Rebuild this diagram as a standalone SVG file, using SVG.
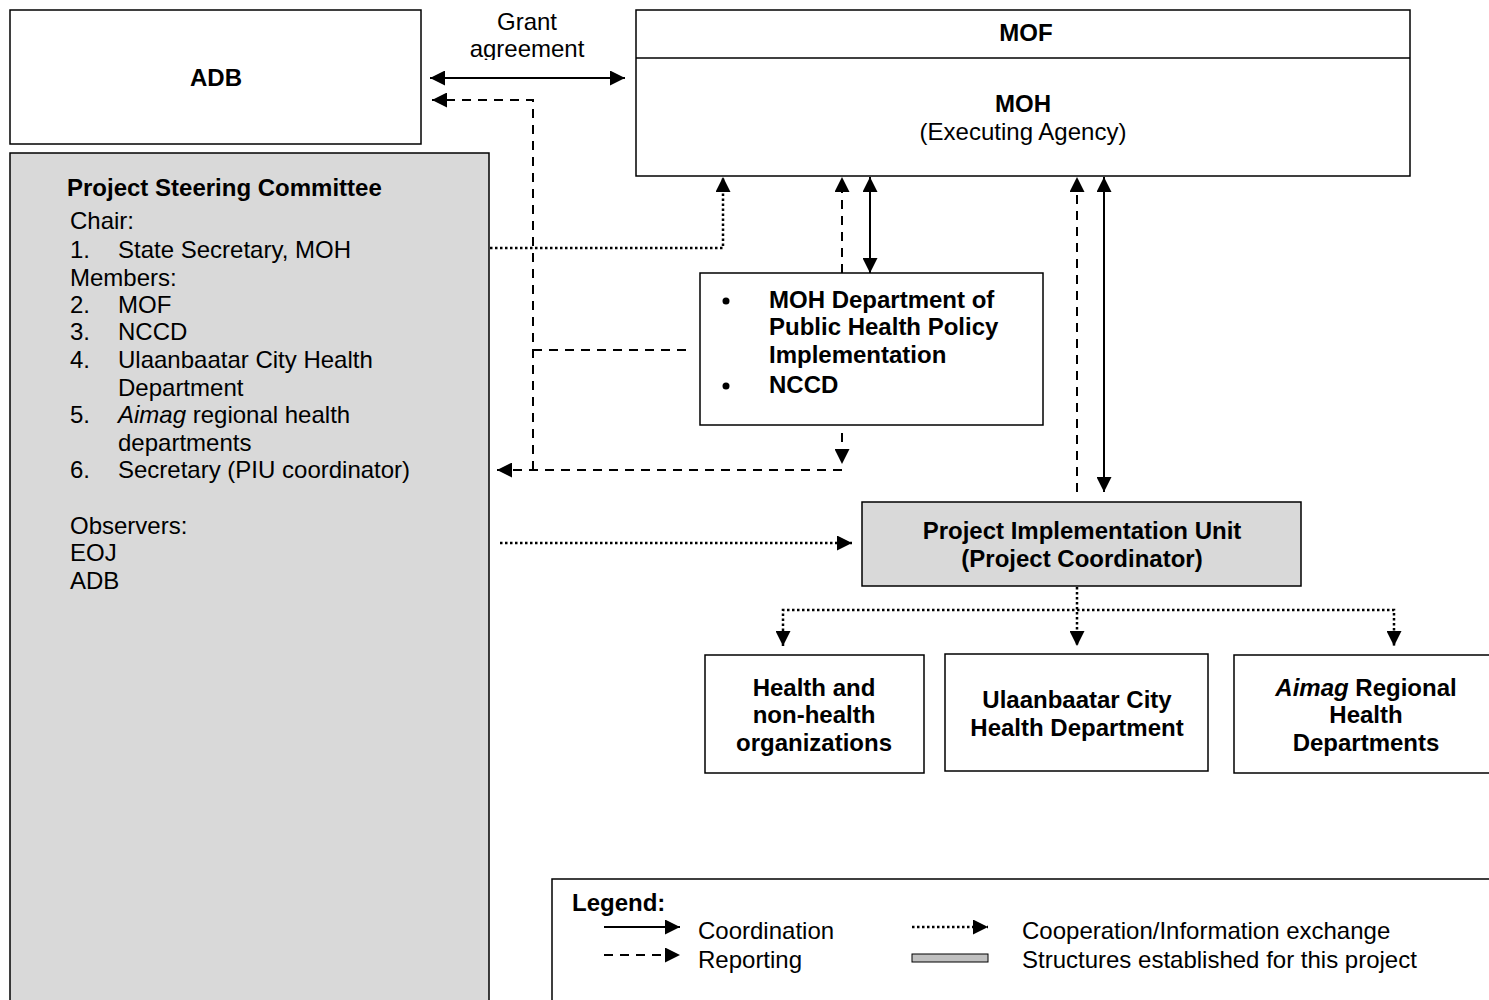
<svg xmlns="http://www.w3.org/2000/svg" width="1489" height="1000" viewBox="0 0 1489 1000">
<style>
text{font-family:"Liberation Sans",Arial,sans-serif;font-size:24px;fill:#000}
.b{font-weight:bold}
.c{text-anchor:middle}
.box{fill:#fff;stroke:#000;stroke-width:1.5}
.gray{fill:#d9d9d9;stroke:#000;stroke-width:1.5}
.solid{fill:none;stroke:#000;stroke-width:2}
.dash{fill:none;stroke:#000;stroke-width:2;stroke-dasharray:9,7}
.dot{fill:none;stroke:#000;stroke-width:2.5;stroke-dasharray:2.5,2.5}
</style>
<defs>
<marker id="ah" viewBox="0 0 15 15" refX="15" refY="7.5" markerWidth="15" markerHeight="15" markerUnits="userSpaceOnUse" orient="auto-start-reverse">
<path d="M0,0 L15,7.5 L0,15 Z" fill="#000"/>
</marker>
<clipPath id="gclip"><rect x="430" y="0" width="200" height="60"/></clipPath>
</defs>
<rect width="1489" height="1000" fill="#fff"/>

<g id="adb">
<rect class="box" x="10" y="10" width="411" height="134"/>
<text class="b c" x="216" y="86">ADB</text>
</g>

<g id="psc">
<rect class="gray" x="10" y="153" width="479" height="860"/>
<text class="b" x="67" y="196">Project Steering Committee</text>
<text x="70" y="229">Chair:</text>
<text x="70" y="258">1.</text><text x="118" y="258">State Secretary, MOH</text>
<text x="70" y="286">Members:</text>
<text x="70" y="313">2.</text><text x="118" y="313">MOF</text>
<text x="70" y="340">3.</text><text x="118" y="340">NCCD</text>
<text x="70" y="368">4.</text><text x="118" y="368">Ulaanbaatar City Health</text>
<text x="118" y="396">Department</text>
<text x="70" y="423">5.</text><text x="118" y="423"><tspan font-style="italic">Aimag</tspan> regional health</text>
<text x="118" y="451">departments</text>
<text x="70" y="478">6.</text><text x="118" y="478">Secretary (PIU coordinator)</text>
<text x="70" y="534">Observers:</text>
<text x="70" y="561">EOJ</text>
<text x="70" y="589">ADB</text>
</g>

<g id="mof-moh">
<rect class="box" x="636" y="10" width="774" height="166"/>
<line x1="636" y1="58" x2="1410" y2="58" stroke="#000" stroke-width="1.5"/>
<text class="b c" x="1026" y="41">MOF</text>
<text class="b c" x="1023" y="112">MOH</text>
<text class="c" x="1023" y="140">(Executing Agency)</text>
</g>

<g id="moh-dept">
<rect class="box" x="700" y="273" width="343" height="152"/>
<circle cx="726" cy="301" r="3.5" fill="#000"/>
<circle cx="726" cy="386" r="3.5" fill="#000"/>
<text class="b" x="769" y="308">MOH Department of</text>
<text class="b" x="769" y="335">Public Health Policy</text>
<text class="b" x="769" y="363">Implementation</text>
<text class="b" x="769" y="393">NCCD</text>
</g>

<g id="piu">
<rect class="gray" x="862" y="502" width="439" height="84"/>
<text class="b c" x="1082" y="539">Project Implementation Unit</text>
<text class="b c" x="1082" y="567">(Project Coordinator)</text>
</g>

<g id="health-orgs">
<rect class="box" x="705" y="655" width="219" height="118"/>
<text class="b c" x="814" y="696">Health and</text>
<text class="b c" x="814" y="723">non-health</text>
<text class="b c" x="814" y="751">organizations</text>
</g>

<g id="ub-city">
<rect class="box" x="945" y="654" width="263" height="117"/>
<text class="b c" x="1077" y="708">Ulaanbaatar City</text>
<text class="b c" x="1077" y="736">Health Department</text>
</g>

<g id="aimag">
<rect class="box" x="1234" y="655" width="270" height="118"/>
<text class="b c" x="1366" y="696"><tspan font-style="italic">Aimag</tspan> Regional</text>
<text class="b c" x="1366" y="723">Health</text>
<text class="b c" x="1366" y="751">Departments</text>
</g>

<g id="connectors">
<g clip-path="url(#gclip)">
<text class="c" x="527" y="30">Grant</text>
<text class="c" x="527" y="57">agreement</text>
</g>
<line class="solid" x1="430" y1="78" x2="625" y2="78" marker-start="url(#ah)" marker-end="url(#ah)"/>
<polyline class="dash" points="533,470 533,100 432,100" marker-end="url(#ah)"/>
<line class="dash" x1="533" y1="350" x2="690" y2="350"/>
<polyline class="dash" points="842,470 497,470" marker-end="url(#ah)"/>
<line class="dash" x1="842" y1="433" x2="842" y2="464" marker-end="url(#ah)"/>
<polyline class="dot" points="490,248 723,248 723,177" marker-end="url(#ah)"/>
<line class="dash" x1="842" y1="273" x2="842" y2="177" marker-end="url(#ah)"/>
<line class="solid" x1="870" y1="177" x2="870" y2="273" marker-start="url(#ah)" marker-end="url(#ah)"/>
<line class="dash" x1="1077" y1="492" x2="1077" y2="177" marker-end="url(#ah)"/>
<line class="solid" x1="1104" y1="177" x2="1104" y2="492" marker-start="url(#ah)" marker-end="url(#ah)"/>
<line class="dot" x1="500" y1="543" x2="852" y2="543" marker-end="url(#ah)"/>
<line class="dot" x1="1077" y1="587" x2="1077" y2="646" marker-end="url(#ah)"/>
<polyline class="dot" points="783,646 783,610 1394,610 1394,646" marker-start="url(#ah)" marker-end="url(#ah)"/>
</g>

<g id="legend">
<rect class="box" x="552" y="879" width="950" height="140"/>
<text class="b" x="572" y="911">Legend:</text>
<line class="solid" x1="604" y1="927" x2="680" y2="927" stroke-width="2.5" marker-end="url(#ah)"/>
<text x="698" y="939">Coordination</text>
<line class="dash" x1="604" y1="955" x2="680" y2="955" stroke-width="2.5" stroke-dasharray="10,7" marker-end="url(#ah)"/>
<text x="698" y="968">Reporting</text>
<line class="dot" x1="912" y1="927" x2="988" y2="927" stroke-width="1.5" stroke-dasharray="2,1.5" marker-end="url(#ah)"/>
<text x="1022" y="939">Cooperation/Information exchange</text>
<rect x="912" y="954" width="76" height="8" fill="#c0c0c0" stroke="#000" stroke-width="1"/>
<text x="1022" y="968">Structures established for this project</text>
</g>
</svg>
